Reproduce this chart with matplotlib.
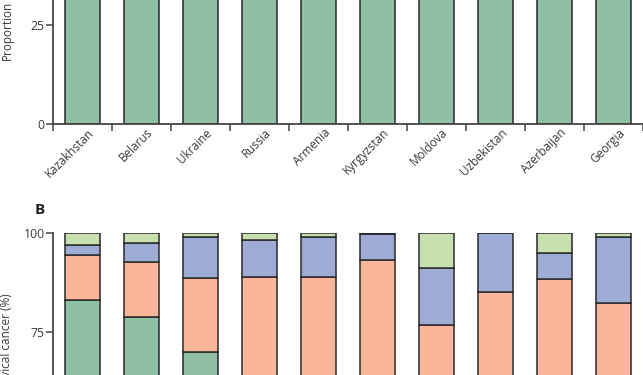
import matplotlib.pyplot as plt
import matplotlib.transforms as mtransforms
import numpy as np

plt.rcParams['font.family'] = ['Open Sans', 'DejaVu Sans']

countries = ["Kazakhstan", "Belarus", "Ukraine", "Russia", "Armenia",
             "Kyrgyzstan", "Moldova", "Uzbekistan", "Azerbaijan", "Georgia"]

# Panel A: proportion (all bars run off the top of the crop)
proportion = [100, 100, 100, 100, 100, 100, 100, 100, 100, 100]

# Panel B: stacked shares (%), bottom to top
seg1 = [82.9, 78.7, 69.8, 55.0, 50.0, 45.0, 40.0, 30.0, 45.0, 50.0]
seg2 = [11.5, 14.0, 18.7, 33.7, 38.8, 48.0, 36.8, 54.9, 43.4, 32.2]
seg3 = [2.5, 4.6, 10.3, 9.5, 10.2, 6.6, 14.2, 15.1, 6.5, 16.6]
seg4 = [3.1, 2.7, 1.2, 1.8, 1.0, 0.4, 9.0, 0.0, 5.1, 1.2]

c_green = "#8fbfa5"
c_salmon = "#f9b69b"
c_blue = "#9eabd4"
c_light = "#c8dfb0"
edge = "#2a2a2a"
text_col = "#3a3a3a"

W, H = 643, 375
fig = plt.figure(figsize=(W / 100, H / 100), dpi=100)

x = np.arange(len(countries))
bw = 0.6


def px_axes(left, right, y0_px, px_per_unit, ymax=100):
    # place axes in pixel terms: y0_px is pixel row (from top) of value 0
    h = ymax * px_per_unit
    bottom = (H - y0_px) / H
    return fig.add_axes([left / W, bottom, (right - left) / W, h / H])


def style(ax):
    for s in ["top", "right"]:
        ax.spines[s].set_visible(False)
    for s in ["left", "bottom"]:
        ax.spines[s].set_color("#444444")
        ax.spines[s].set_linewidth(1.3)
    ax.tick_params(axis="y", length=5, width=1.1, color="#444444",
                   labelsize=8.8, labelcolor=text_col, pad=1)
    ax.set_xlim(-0.5, len(countries) - 0.5)
    ax.set_ylim(0, 100)
    ax.set_yticks([0, 25, 50, 75, 100])


# Panel A
ax1 = px_axes(53, 643, 124, 3.96)
ax1.bar(x, proportion, width=bw, color=c_green, edgecolor=edge, linewidth=1.1)
style(ax1)
ax1.set_xticks(np.arange(-0.5, len(countries), 1.0))
ax1.set_xticklabels([])
ax1.tick_params(axis="x", which="major", length=5, width=1.1, color="#444444")
ax1.set_xticks(x, minor=True)
ax1.set_xticklabels(countries, minor=True, rotation=45, ha="right",
                    rotation_mode="anchor", fontsize=8.5, color=text_col)
ax1.tick_params(axis="x", which="minor", length=0, pad=1.5)
offset = mtransforms.ScaledTranslation(5 / 100, 0, fig.dpi_scale_trans)
for lab in ax1.get_xticklabels(minor=True):
    lab.set_transform(lab.get_transform() + offset)

fig.text(7 / W, 1 - 60 / H, "Proportion", rotation=90, ha="center",
         va="bottom", fontsize=8.5, color=text_col)

# Panel B
ax2 = px_axes(53, 643, 628.7, 3.96)
b = np.zeros(len(countries))
for vals, col in [(seg1, c_green), (seg2, c_salmon), (seg3, c_blue), (seg4, c_light)]:
    ax2.bar(x, vals, width=bw, bottom=b, color=col, edgecolor=edge, linewidth=1.1)
    b = b + np.array(vals)
style(ax2)
ax2.set_xticks([])

fig.text(7 / W, 1 - 293 / H, "Proportion of cervical cancer (%)", rotation=90,
         ha="center", va="top", fontsize=8.5, color=text_col)
fig.text(40 / W, 1 - 210 / H, "B", ha="center", va="center", fontsize=11,
         fontweight="bold", color="#222222")

fig.savefig("out.png", dpi=100)
